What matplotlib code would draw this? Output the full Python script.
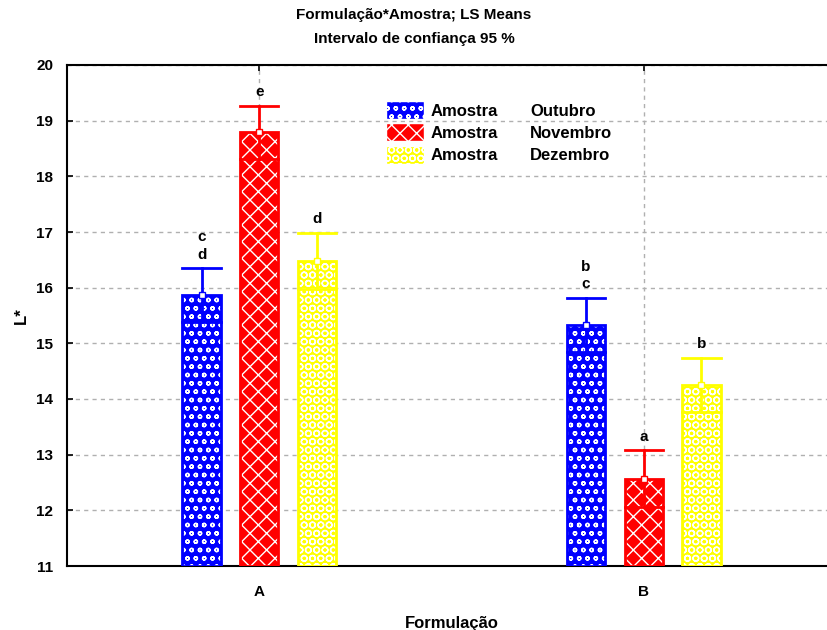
import matplotlib
matplotlib.use("Agg")
import matplotlib.pyplot as plt
from matplotlib.patches import Patch
import numpy as np

plt.rcParams['font.family'] = ['Liberation Sans', 'DejaVu Sans']
plt.rcParams['hatch.linewidth'] = 1.0

categories = ["A", "B"]
series = ["Outubro", "Novembro", "Dezembro"]
means = {
    "Outubro": [15.87, 15.33],
    "Novembro": [18.79, 12.57],
    "Dezembro": [16.48, 14.25],
}
ci = {
    "Outubro": [0.48, 0.49],
    "Novembro": [0.48, 0.51],
    "Dezembro": [0.50, 0.49],
}
letters = {
    "Outubro": ["c\nd", "b\nc"],
    "Novembro": ["e", "a"],
    "Dezembro": ["d", "b"],
}
colors = {"Outubro": "#0000ff", "Novembro": "#ff0000", "Dezembro": "#ffff00"}
hatches = {"Outubro": "oo", "Novembro": "xx", "Dezembro": "OO"}
offsets = {"Outubro": -0.15, "Novembro": 0.0, "Dezembro": 0.15}

fig = plt.figure(figsize=(8.28, 6.30), dpi=100)
ax = fig.add_axes([67/828, 1-566/630, (836-67)/828, (566-65)/630])

x = np.arange(len(categories))
width = 0.10
for s in series:
    xs = x + offsets[s]
    m = np.array(means[s])
    c = np.array(ci[s])
    ax.bar(xs, m - 11, bottom=11, width=width, color=colors[s], edgecolor="white",
           hatch=hatches[s], linewidth=0, zorder=3)
    ax.bar(xs, m - 11, bottom=11, width=width, fill=False, edgecolor=colors[s],
           linewidth=2, zorder=4)
    for xi, mi, ci_, lab in zip(xs, m, c, letters[s]):
        ax.plot([xi, xi], [mi - ci_, mi + ci_], color=colors[s], lw=2, zorder=5)
        ax.plot([xi - width/2, xi + width/2], [mi + ci_, mi + ci_], color=colors[s], lw=2, zorder=5)
        ax.plot([xi - width/2, xi + width/2], [mi - ci_, mi - ci_], color=colors[s], lw=2, zorder=5)
        ax.plot([xi], [mi], marker="s", ms=5, mfc="white", mec=colors[s], mew=1, zorder=6)
        ax.text(xi, mi + ci_ + 0.12, lab, ha="center", va="bottom", fontsize=11,
                fontweight="bold", linespacing=1.3, zorder=6)

ax.set_xlim(-0.5, 1.5)
ax.set_ylim(11, 20)
ax.set_yticks(np.arange(11, 21, 1))
ax.set_xticks(x)
ax.set_xticklabels(categories)
ax.tick_params(direction="in", length=4, width=1.2, top=True, labelsize=11, pad=10)
for lab in ax.get_xticklabels() + ax.get_yticklabels():
    lab.set_fontweight("bold")
ax.tick_params(axis="x", pad=14)
ax.grid(True, linestyle=(0, (3, 3)), color="#b0b0b0", lw=1, zorder=0)
for sp in ["left", "bottom", "top"]:
    ax.spines[sp].set_linewidth(1.5)
ax.spines["right"].set_visible(False)

ax.set_xlabel("Formulação", fontsize=12, fontweight="bold", labelpad=12)
ax.set_ylabel("L*", fontsize=12, fontweight="bold", labelpad=5)
fig.text(0.5, 1-15/630, "Formulação*Amostra; LS Means", ha="center", va="center",
         fontsize=11, fontweight="bold")
fig.text(0.5, 1-39/630, "Intervalo de confiança 95 %", ha="center", va="center",
         fontsize=11, fontweight="bold")

handles = [Patch(facecolor=colors[s], edgecolor="white", hatch=hatches[s]) for s in series]
leg = ax.legend(handles, ["Amostra"] * 3, loc="upper left",
                bbox_to_anchor=((386-67)/769, 1-(101-65)/501), frameon=False,
                fontsize=12, handlelength=2.3, handleheight=1.3,
                labelspacing=0.25, handletextpad=0.4, borderaxespad=0, borderpad=0)
for t in leg.get_texts():
    t.set_fontweight("bold")
for i, s in enumerate(series):
    fig.text(530/828, 1-(112 + i*22)/630, s, ha="left", va="center",
             fontsize=12, fontweight="bold")

fig.savefig("out.png", dpi=100)
